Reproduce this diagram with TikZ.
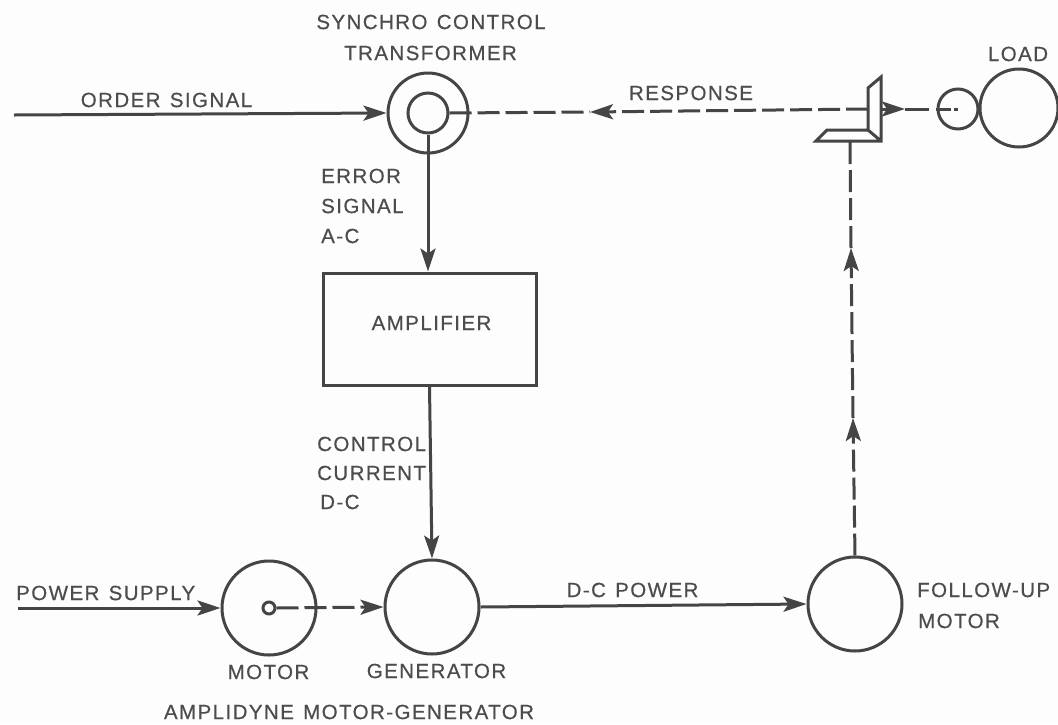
\documentclass[tikz,border=0pt]{standalone}
\usepackage{fontspec}
\setmainfont[LetterSpace=7,WordSpace=1.3,FakeBold=0.5]{Liberation Sans}
\usetikzlibrary{arrows.meta}
\definecolor{ink}{HTML}{454545}
\definecolor{paper}{HTML}{FDFDFD}
\definecolor{txt}{HTML}{4C4C4C}
\tikzset{
  x=1pt,y=-1pt,
  wire/.style={draw=ink,line width=3pt},
  dashwire/.style={wire,dash pattern=on 22pt off 6pt},
  arr/.style={-{Stealth[length=23pt,width=15pt,inset=5pt]}},
  disc/.style={circle,draw=ink,line width=3pt,inner sep=0pt},
  lbl/.style={text=txt,inner sep=0pt,font=\fontsize{20.5}{22}\selectfont},
  box/.style={draw=ink,line width=3pt,inner sep=0pt}
}
\begin{document}
\begin{tikzpicture}
\useasboundingbox[fill=paper] (0,0) rectangle (1058,724);
% nodes
\node[disc,minimum size=80pt] (sy) at (428,113) {};
\node[disc,minimum size=40pt] (syi) at (428,113) {};
\node[disc,minimum size=40pt] (ls) at (958,109) {};
\node[disc,minimum size=78pt] (ll) at (1019,108) {};
\node[box,minimum width=213pt,minimum height=112pt] (amp) at (429.5,329) {};
\node[disc,minimum size=94pt] (mot) at (269,608) {};
\node[disc,minimum size=12pt] (moti) at (269,608) {};
\node[disc,minimum size=94pt] (gen) at (432,607) {};
\node[disc,minimum size=94pt] (fol) at (855,604) {};
% bevel gear
\coordinate (gv1) at (868,88); \coordinate (gv2) at (881,77);
\coordinate (gv3) at (881,141); \coordinate (gv4) at (868,130);
\coordinate (gh1) at (827,130); \coordinate (gh2) at (816,141);
\draw[wire,line join=miter] (gv4)--(gv1)--(gv2)--(gv3)--(gh2)--(gh1)--(gv4)--(gv3);
% free ends
\coordinate (os) at (14,115);
\coordinate (ps) at (18,608);
\coordinate (ga) at (905,109);
\coordinate (gb) at (868,109);
\coordinate (gc) at (850,141);
\coordinate (r1) at (590,112);
\coordinate (sa) at (929,109);
\coordinate (sb) at (936,109);
\coordinate (u1) at (851,248);
\coordinate (u2) at (853,418);
% solid connectors
\draw[wire,arr] (os) -- (sy.west);
\draw[wire,arr] (syi.south) -- (syi.south |- amp.north);
\draw[wire,arr] (amp.south) -- (gen.north);
\draw[wire,arr] (ps) -- (mot.west);
\draw[wire,arr] (gen.east) -- (fol.west);
% dashed connectors
\draw[dashwire,arr] (moti.east) -- (gen.west);
\draw[dashwire] (syi.east) -- (r1);
\draw[dashwire,arr] (gb) -- (r1);
\draw[wire,arr] (gv2 |- ga) -- (ga);
\draw[wire] (ga) -- (sa);
\draw[wire,dash pattern=on 15pt off 3pt] (sb) -- (ls.center);
\draw[dashwire,arr] (fol.north) -- (u2);
\draw[dashwire,arr] (u2) -- (u1);
\draw[dashwire] (u1) -- (gc);
% labels
\node[lbl] (t1) at (431,22) {SYNCHRO CONTROL};
\node[lbl] (t2) at (430.5,53) {TRANSFORMER};
\node[lbl] (t3) at (1018,54) {LOAD};
\node[lbl] (t4) at (166.5,100) {ORDER SIGNAL};
\node[lbl] (t5) at (691,93) {RESPONSE};
\node[lbl,anchor=west] (t6) at (321,176) {ERROR};
\node[lbl,anchor=west] (t7) at (321,206) {SIGNAL};
\node[lbl,anchor=west] (t8) at (321,236) {A-C};
\node[lbl] (t9) at (431.5,323) {AMPLIFIER};
\node[lbl,anchor=west] (t10) at (317,444) {CONTROL};
\node[lbl,anchor=west] (t11) at (317,473) {CURRENT};
\node[lbl,anchor=west] (t12) at (320,502) {D-C};
\node[lbl,anchor=west] (t13) at (16,593) {POWER SUPPLY};
\node[lbl] (t14) at (632.5,590) {D-C POWER};
\node[lbl,anchor=west] (t15) at (917,590) {FOLLOW-UP};
\node[lbl,anchor=west] (t16) at (918,621) {MOTOR};
\node[lbl] (t17) at (268.5,672) {MOTOR};
\node[lbl] (t18) at (436.5,671) {GENERATOR};
\node[lbl] (t19) at (349,712) {AMPLIDYNE MOTOR-GENERATOR};
\end{tikzpicture}
\end{document}
